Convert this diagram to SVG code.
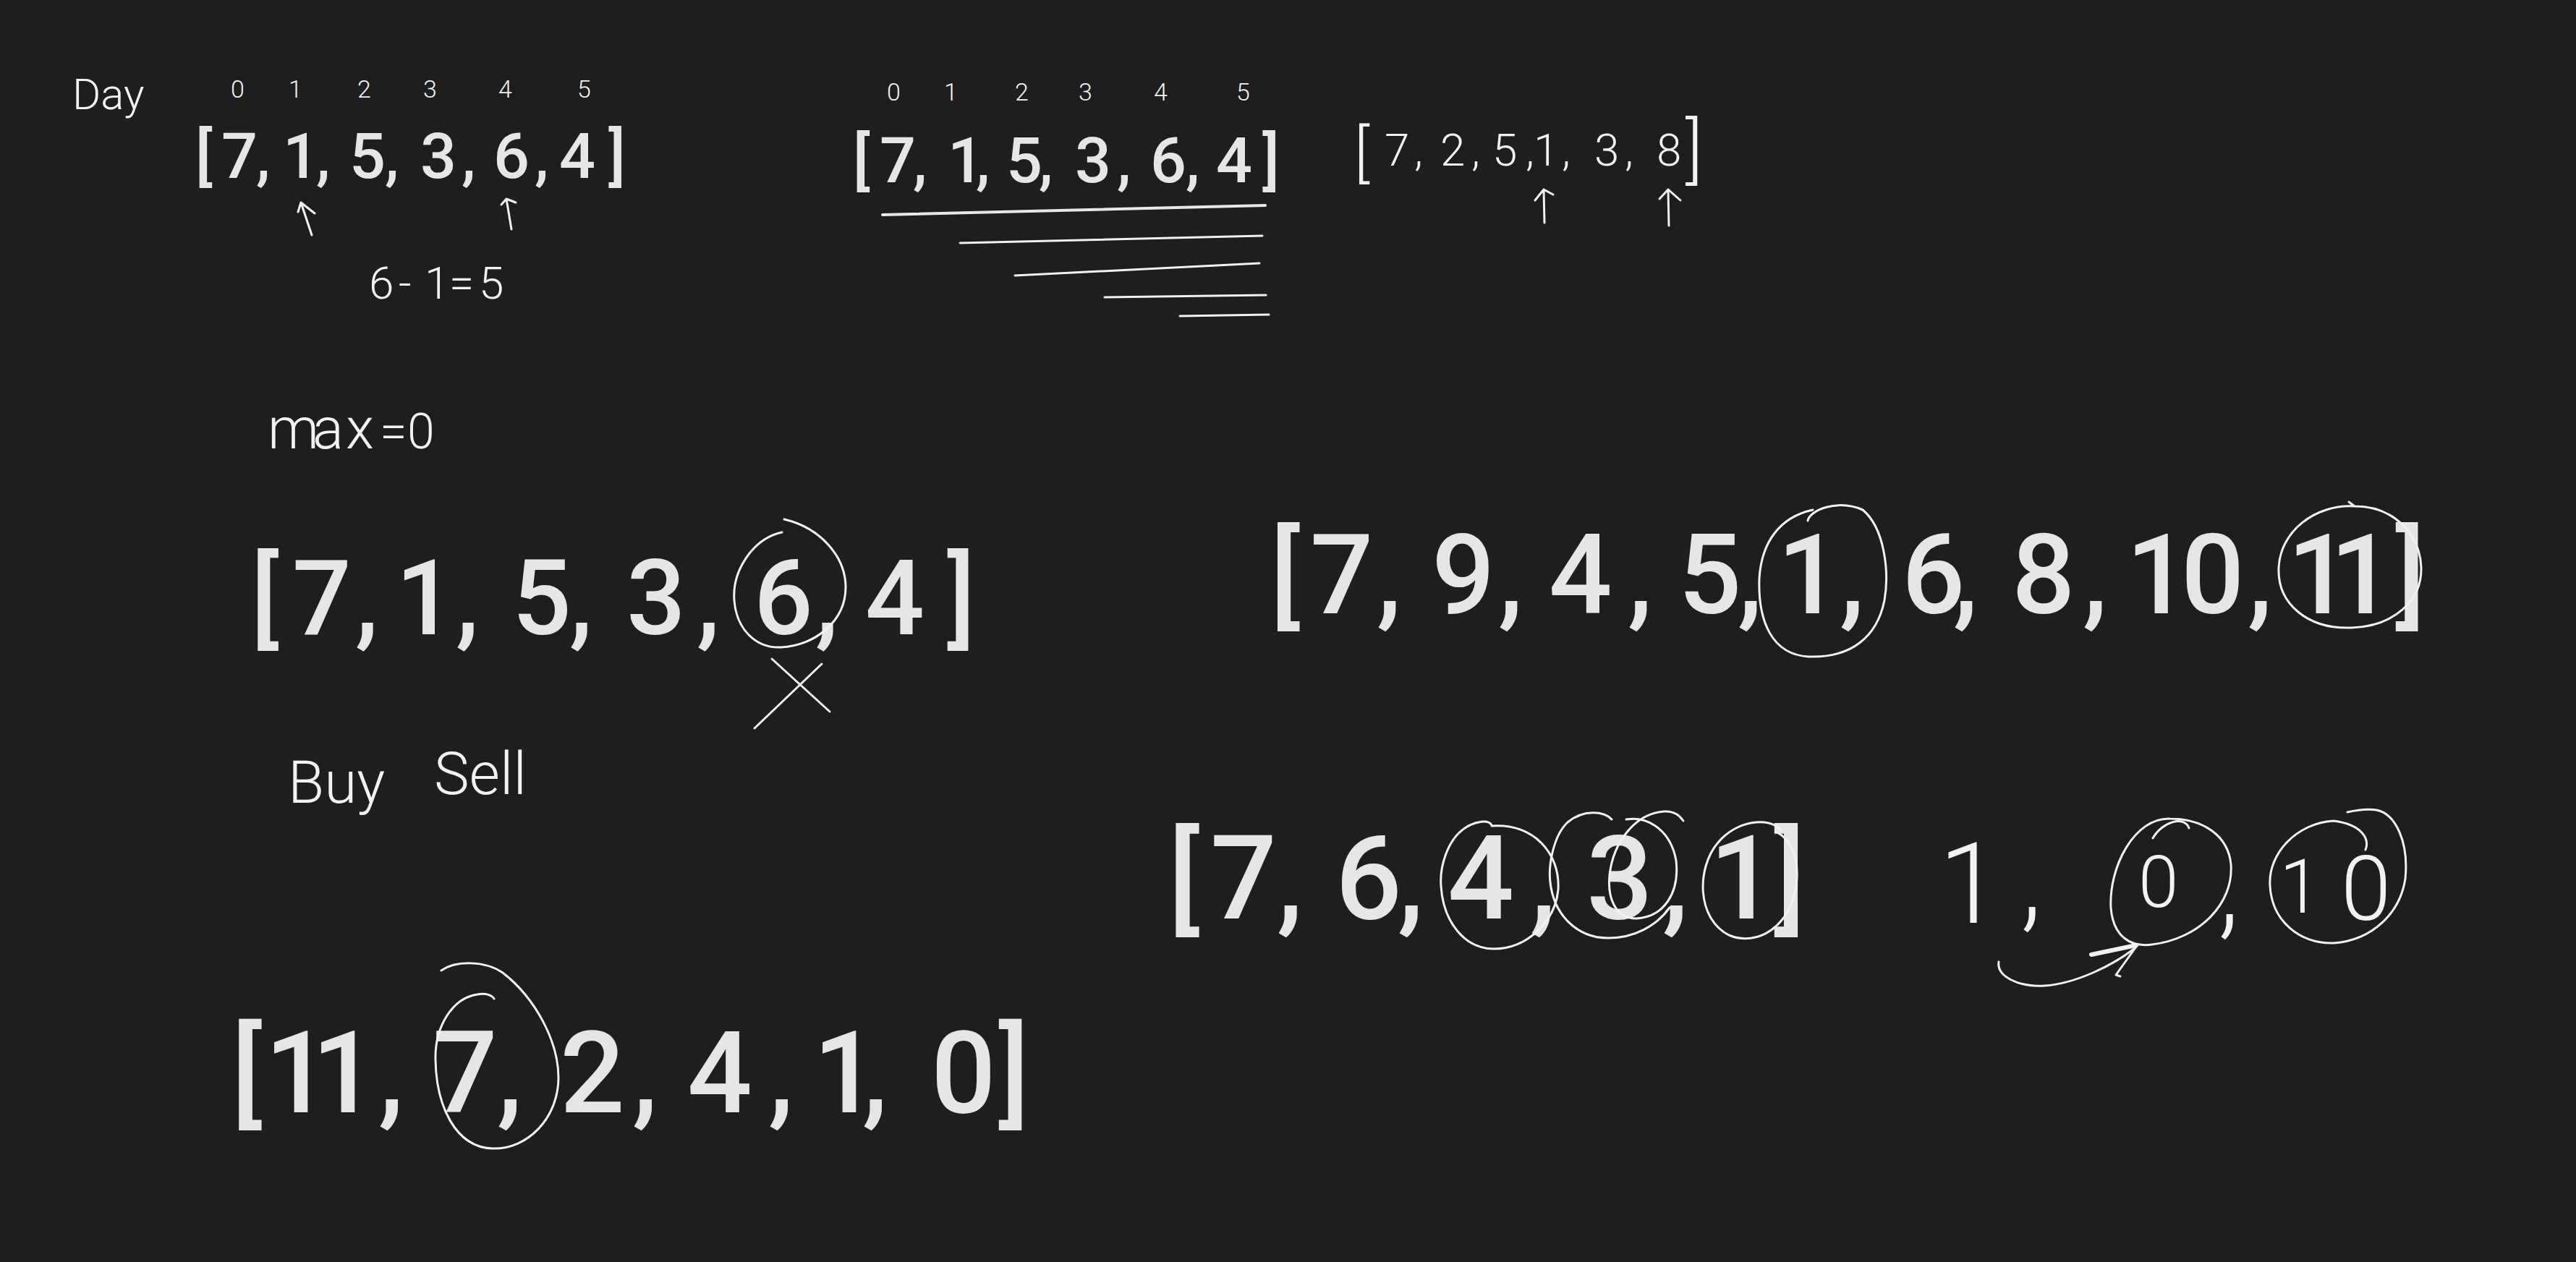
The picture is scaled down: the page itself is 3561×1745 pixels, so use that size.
<svg xmlns="http://www.w3.org/2000/svg" width="3561" height="1745" viewBox="0 0 3561 1745">
<style>
.bold{font-family:Roboto,"Liberation Sans",sans-serif;font-weight:500;fill:#e6e6e6}
.thin{font-family:Roboto,"Liberation Sans",sans-serif;font-weight:300;fill:#f2f2f2}
.ink{fill:none;stroke:#f2f2f2;stroke-width:3;stroke-linecap:round;stroke-linejoin:round}
.inkb{fill:none;stroke:#e8e8e8;stroke-width:4;stroke-linecap:round;stroke-linejoin:round}
</style>
<rect x="0" y="0" width="3561" height="1745" fill="#1e1e1e"/>

<g id="day-label">
<text class="thin" x="100" y="151" font-size="60">Day</text>
</g>

<g id="array-a">
<text class="thin" font-size="34" y="135" x="319 399 494 585 689 798">012345</text>
<text class="bold" font-size="88" y="246" x="270 306 354 391 437 483 532 581 638 682 739 773 841">[7,1,5,3,6,4]</text>
<text class="thin" font-size="62" y="413" x="510 551 587 621 662">6-1=5</text>
</g>

<g id="array-b">
<text class="thin" font-size="34" y="139" x="1226 1305 1403 1491 1595 1709">012345</text>
<text class="bold" font-size="88" y="252" x="1179 1216 1262 1310 1349 1391 1436 1486 1544 1590 1639 1681 1745">[7,1,5,3,6,4]</text>
<path class="inkb" d="M1220,297 L1749,284"/>
<path class="ink" d="M1327,336 L1745,326"/>
<path class="ink" d="M1403,381 L1741,364"/>
<path class="ink" d="M1527,411 L1750,408"/>
<path class="ink" d="M1631,437 L1754,435"/>
</g>

<g id="array-c">
<text class="thin"><tspan x="1872" y="242" font-size="88">[</tspan><tspan font-size="62" y="229" x="1914 1955 1991 2034 2063 2109 2120 2159 2204 2246 2290">7,2,5,1,3,8</tspan><tspan x="2330" y="242" font-size="100">]</tspan></text>
</g>

<g id="max-label">
<text class="thin" y="620"><tspan font-size="80" x="370 432 478">max</tspan><tspan font-size="68" x="525 563">=0</tspan></text>
</g>

<g id="array-d">
<text class="bold" font-size="144" y="877" x="347 404 491 547 630 708 787 866 963 1042 1127 1196 1309">[7,1,5,3,6,4]</text>
<path class="ink" d="M1081,736 C1040,745 1012,790 1015,830 C1018,870 1045,897 1080,895 C1125,893 1170,860 1169,810 C1168,770 1135,730 1084,718"/>
<path class="ink" d="M1067,911 L1147,984 M1136,918 L1043,1007"/>
</g>

<g id="buy-sell">
<text class="thin" font-size="82"><tspan x="398" y="1110">Buy</tspan> <tspan x="600" y="1098">Sell</tspan></text>
</g>

<g id="array-e">
<text class="bold" font-size="154" y="848" x="1756 1811 1903 1979 2071 2141 2250 2320 2402 2457 2543 2629 2700 2781 2879 2939 3015 3107 3162 3221 3311">[7,9,4,5,1,6,8,10,11]</text>
<path class="ink" d="M2499,720 C2502,705 2540,690 2575,705 C2605,730 2612,790 2605,830 C2595,880 2560,910 2500,908 C2450,905 2430,860 2432,800 C2435,750 2460,715 2506,705"/>
<path class="ink" d="M3255,700 C3200,697 3152,735 3150,785 C3148,835 3190,870 3250,868 C3310,866 3348,830 3347,785 C3346,740 3310,700 3255,700 L3247,694"/>
</g>

<g id="array-f">
<text class="bold" font-size="162" y="1270" x="1615 1673 1765 1846 1932 2001 2115 2193 2298 2363 2452">[7,6,4,3,1]</text>
<path class="ink" d="M2062,1141 C2058,1133 2040,1135 2025,1145 C2000,1162 1990,1200 1992,1225 C1995,1275 2025,1312 2065,1312 C2110,1312 2150,1275 2154,1230 C2157,1180 2120,1138 2062,1142"/>
<path class="ink" d="M2228,1133 C2218,1122 2190,1118 2167,1137 C2148,1155 2140,1195 2143,1220 C2148,1265 2180,1297 2223,1297 C2260,1297 2290,1280 2308,1255"/>
<path class="ink" d="M2248,1133 C2280,1128 2310,1150 2317,1190 C2322,1235 2300,1268 2262,1270 C2232,1270 2222,1240 2225,1210 C2230,1165 2260,1125 2300,1122 C2315,1121 2322,1128 2327,1135"/>
<path class="ink" d="M2462,1148 C2445,1128 2400,1135 2375,1165 C2345,1200 2345,1270 2390,1293 C2430,1310 2475,1280 2483,1225 C2488,1185 2475,1160 2455,1150"/>
</g>

<g id="sequence-1-0-10">
<text class="thin"><tspan x="2680" y="1276" font-size="155">1</tspan><tspan x="2793" y="1268" font-size="155">,</tspan><tspan x="2956" y="1254" font-size="100">0</tspan><tspan x="3066" y="1278" font-size="155">,</tspan><tspan x="3151" y="1262" font-size="103">1</tspan><tspan x="3236" y="1272" font-size="125">0</tspan></text>
<path class="ink" d="M3000,1132 C2950,1130 2915,1200 2918,1255 C2921,1295 2945,1310 2975,1306 C3040,1298 3088,1250 3084,1195 C3080,1155 3045,1132 3000,1132 Z"/>
<path class="ink" d="M2976,1159 C2990,1135 3020,1128 3026,1145"/>
<path class="ink" d="M3270,1175 C3276,1160 3265,1140 3226,1135 C3175,1138 3135,1180 3138,1225 C3141,1275 3180,1305 3226,1304 C3280,1300 3318,1262 3325,1215 C3330,1165 3312,1125 3285,1120 C3272,1118 3258,1120 3245,1123"/>
</g>

<g id="array-g">
<text class="bold" font-size="158" y="1538" x="320 366 431 523 598 687 774 874 950 1062 1124 1192 1287 1380">[11,7,2,4,1,0]</text>
<path class="ink" d="M610,1342 C630,1328 670,1328 695,1345 C740,1380 772,1440 772,1490 C772,1545 730,1590 680,1588 C630,1586 603,1530 602,1465 C601,1420 625,1380 660,1375 C672,1373 680,1376 683,1381"/>
</g>

<g id="connectors">
<path class="ink" d="M431,325 L416,280 M412,293 L416,280 L435,295"/>
<path class="ink" d="M707,317 L700,275 M693,283 L700,275 L713,280"/>
<path class="ink" d="M2135,308 L2134,262 M2122,277 L2134,262 L2147,269"/>
<path class="ink" d="M2307,312 L2306,262 M2294,275 L2306,262 L2323,277"/>
<path class="ink" d="M2763,1330 C2760,1350 2790,1365 2826,1363 C2870,1360 2920,1335 2950,1312"/>
<path class="ink" d="M2891,1320 L2953,1307" style="stroke-width:6"/>
<path class="ink" d="M2953,1309 L2925,1348 L2931,1350"/>
</g>
</svg>
